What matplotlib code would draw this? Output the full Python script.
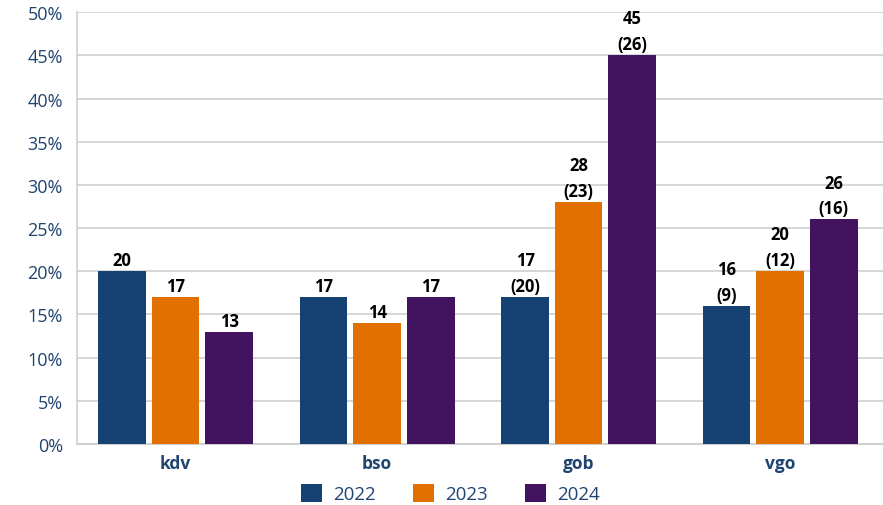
import numpy as np
import matplotlib.pyplot as plt

plt.rcParams['font.family'] = ['Open Sans', 'DejaVu Sans']

categories = ['kdv', 'bso', 'gob', 'vgo']
years = ['2022', '2023', '2024']
values = {
    '2022': [20, 17, 17, 16],
    '2023': [17, 14, 28, 20],
    '2024': [13, 17, 45, 26],
}
extra = {
    '2022': [None, None, 20, 9],
    '2023': [None, None, 23, 12],
    '2024': [None, None, 26, 16],
}
colors = {'2022': '#154273', '2023': '#e17000', '2024': '#42145f'}
dark = '#1f4470'

fig = plt.figure(figsize=(8.83, 5.06), dpi=100)
ax = fig.add_axes([0.087, 0.1206, 0.913, 0.8534])

x = np.arange(len(categories))
width = 0.236
pitch = 0.266

for i, y in enumerate(years):
    pos = x + (i - 1) * pitch
    bars = ax.bar(pos, values[y], width, color=colors[y], label=y, zorder=3)
    for b, v, e in zip(bars, values[y], extra[y]):
        txt = f'{v}' if e is None else f'{v}\n({e})'
        ax.text(b.get_x() + b.get_width() / 2, v + 0.25, txt, ha='center', va='bottom',
                fontsize=12, fontweight='bold', color='black', linespacing=1.55, zorder=4)

ax.set_ylim(0, 50)
ax.set_xlim(-0.49, 3.51)
ax.set_yticks(range(0, 51, 5))
ax.set_yticklabels([f'{t}%' for t in range(0, 51, 5)])
ax.set_xticks(x)
ax.set_xticklabels(categories, fontweight='bold', fontsize=12.5, color=dark)
ax.tick_params(axis='y', labelsize=13, colors=dark, length=0, pad=10)
ax.tick_params(axis='x', length=0, pad=7)
ax.grid(axis='y', color='#d0d0d0', linewidth=1.2, zorder=0)
for s in ['top', 'right']:
    ax.spines[s].set_visible(False)
ax.spines['left'].set_color('#d0d0d0')
ax.spines['bottom'].set_color('#d0d0d0')
ax.spines['left'].set_linewidth(1.2)
ax.spines['bottom'].set_linewidth(1.5)

leg = fig.legend(loc='lower center', bbox_to_anchor=(0.51, -0.03), ncol=3, frameon=False,
                 fontsize=13.5, handlelength=1.1, handleheight=1.1, columnspacing=2.0,
                 handletextpad=0.6)
for t in leg.get_texts():
    t.set_color(dark)

plt.savefig('out.png', dpi=100)
